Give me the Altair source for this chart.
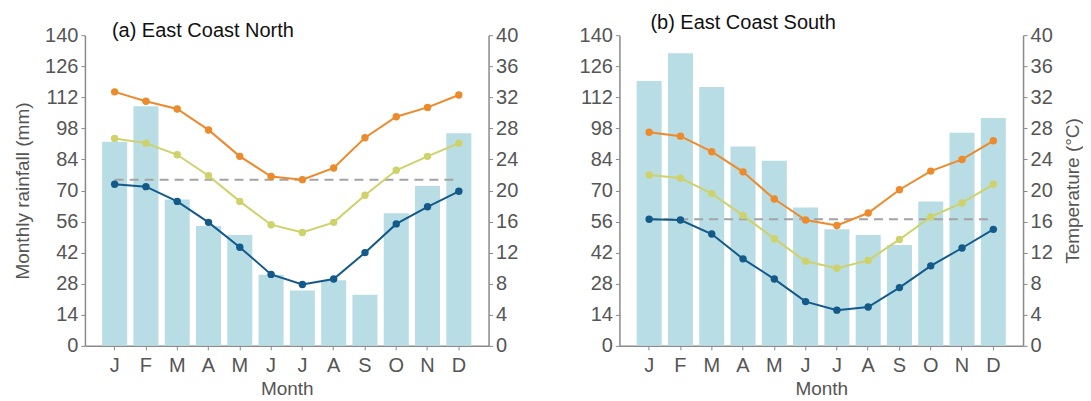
import altair as alt
import pandas as pd

months = ["Jan", "Feb", "Mar", "Apr", "May", "Jun", "Jul", "Aug", "Sep", "Oct", "Nov", "Dec"]

# (a) East Coast North
rain_a = [92, 108, 66, 54, 50, 32, 25, 29.6, 23, 59.7, 72, 95.8]
tmax_a = [32.7, 31.5, 30.5, 27.8, 24.4, 21.8, 21.4, 22.9, 26.8, 29.5, 30.7, 32.3]
tmean_a = [26.7, 26.1, 24.6, 21.9, 18.6, 15.6, 14.6, 15.9, 19.4, 22.6, 24.4, 26.1]
tmin_a = [20.8, 20.5, 18.6, 15.9, 12.7, 9.2, 7.9, 8.6, 12.0, 15.7, 17.9, 19.9]
dash_a = 21.4

# (b) East Coast South
rain_b = [119.4, 131.9, 116.6, 89.8, 83.4, 62.4, 52.5, 49.9, 45.4, 65, 96, 102.7]
tmax_b = [27.5, 27.0, 25.0, 22.4, 18.9, 16.2, 15.5, 17.1, 20.1, 22.5, 24.0, 26.4]
tmean_b = [22.0, 21.6, 19.6, 16.8, 13.8, 10.9, 10.0, 11.0, 13.7, 16.6, 18.4, 20.8]
tmin_b = [16.3, 16.2, 14.4, 11.2, 8.6, 5.7, 4.6, 5.0, 7.5, 10.3, 12.6, 15.0]
dash_b = 16.3

series_names = ["Max", "Mean", "Min"]
series_colors = ["#ec8a2c", "#cfd26a", "#13598a"]

FONT = "Liberation Sans"
LABEL_COLOR = "#555555"
AXIS_COLOR = "#8a8a8a"


def panel(title, title_dx, title_offset, rain, tmax, tmean, tmin, dash, left_title, right_title):
    bars_df = pd.DataFrame({"m": months, "rain": rain})
    rows = []
    for name, vals in zip(series_names, [tmax, tmean, tmin]):
        for m, v in zip(months, vals):
            rows.append({"m": m, "t": v, "s": name})
    lines_df = pd.DataFrame(rows)
    dash_df = pd.DataFrame({"m": [months[0], months[-1]], "t": [dash, dash]})

    xenc = alt.X(
        "m:N",
        sort=months,
        scale=alt.Scale(paddingInner=0.2, paddingOuter=0.55),
        axis=alt.Axis(
            title="Month",
            labelExpr="substring(datum.label, 0, 1)",
            labelAngle=0,
            labelPadding=6,
            titlePadding=4,
        ),
    )

    bars = alt.Chart(bars_df).mark_bar(color="#b9dde4").encode(
        x=xenc,
        y=alt.Y(
            "rain:Q",
            scale=alt.Scale(domain=[0, 140], nice=False),
            axis=alt.Axis(
                values=list(range(0, 141, 14)),
                title=left_title if left_title else None,
                orient="left",
                titlePadding=12,
            ),
        ),
    )

    taxis = alt.Axis(
        values=list(range(0, 41, 4)),
        title=right_title if right_title else None,
        orient="right",
        titleAngle=270,
        titlePadding=30,
    )
    tscale = alt.Scale(domain=[0, 40], nice=False)

    dashed = alt.Chart(dash_df).mark_line(
        color="#a3a3a3", strokeDash=[9, 6], strokeWidth=2
    ).encode(x=xenc, y=alt.Y("t:Q", scale=tscale, axis=taxis))

    lines = alt.Chart(lines_df).mark_line(
        strokeWidth=2,
        point=alt.OverlayMarkDef(filled=True, size=55, opacity=1),
    ).encode(
        x=xenc,
        y=alt.Y("t:Q", scale=tscale, axis=taxis),
        color=alt.Color(
            "s:N",
            scale=alt.Scale(domain=series_names, range=series_colors),
            legend=None,
        ),
    )

    temp = alt.layer(dashed, lines)
    return alt.layer(bars, temp).resolve_scale(y="independent").properties(
        width=404,
        height=311,
        title=alt.TitleParams(
            title,
            anchor="start",
            frame="group",
            dx=title_dx,
            offset=title_offset,
            font=FONT,
            fontSize=20,
            fontWeight="normal",
            color="#111111",
        ),
    )


left = panel("(a) East Coast North", 27, -16, rain_a, tmax_a, tmean_a, tmin_a, dash_a,
             "Monthly rainfall (mm)", None)
right = panel("(b) East Coast South", 31, -8, rain_b, tmax_b, tmean_b, tmin_b, dash_b,
              None, "Temperature (°C)")

chart = alt.hconcat(left, right, spacing=60).properties(
    padding={"left": 5, "top": 5, "right": 0, "bottom": 0}
).configure_view(stroke=None).configure_axis(
    labelFont=FONT,
    labelFontSize=20,
    labelColor=LABEL_COLOR,
    titleFont=FONT,
    titleFontSize=19,
    titleFontWeight="normal",
    titleColor=LABEL_COLOR,
    domainColor=AXIS_COLOR,
    tickColor=AXIS_COLOR,
    domainWidth=1.5,
    tickSize=4,
    grid=False,
    labelPadding=3,
)

chart.save("out.html", embed_options={"renderer": "svg", "actions": False})
